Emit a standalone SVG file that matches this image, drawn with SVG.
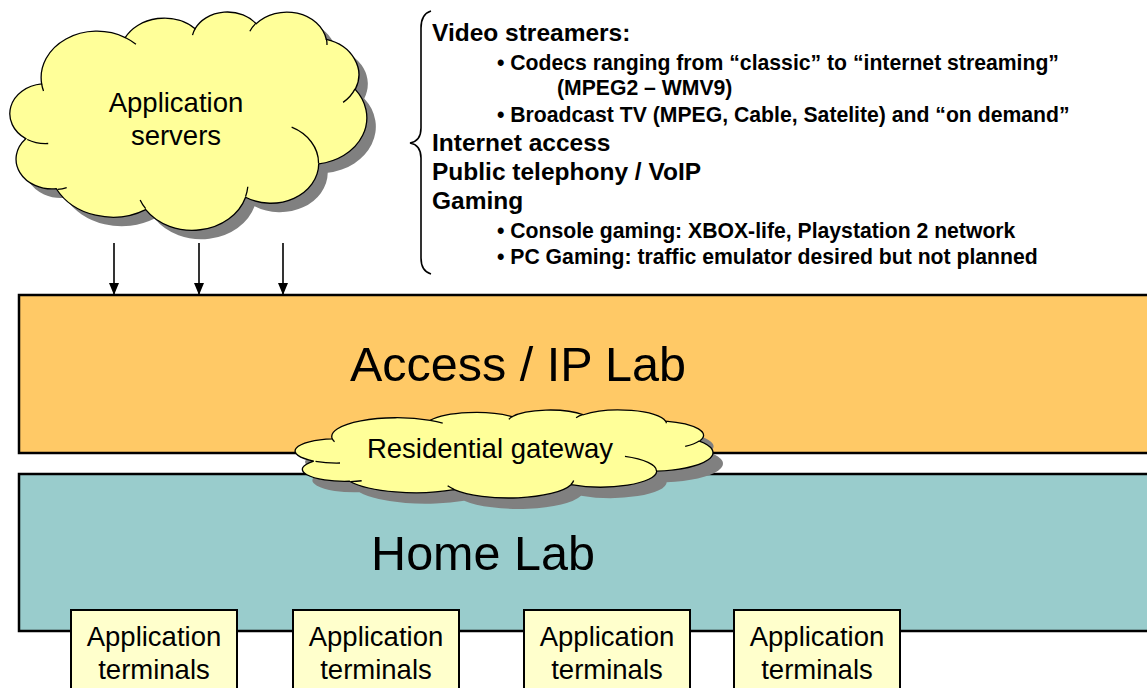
<svg xmlns="http://www.w3.org/2000/svg" xmlns:xlink="http://www.w3.org/1999/xlink" width="1147" height="688" viewBox="0 0 1147 688">
  <style>
    .lab { stroke: #000; stroke-width: 2.5; }
    .sans { font-family: "Liberation Sans", Arial, sans-serif; fill: #000; }
    .cloud { fill: #FFFF99; stroke: #000; stroke-width: 1.3; }
    .cloud-shadow { fill: #808080; stroke: none; }
    .crease { fill: none; stroke: #000; stroke-width: 1.3; }
    .term { fill: #FFFFCC; stroke: #000; stroke-width: 2; }
    .conn { stroke: #000; stroke-width: 1.6; fill: none; }
    .big { font-size: 27.5px; text-anchor: middle; }
    .title { font-size: 48.5px; text-anchor: middle; }
    .list { font-weight: bold; font-size: 24.5px; }
    .sub { font-weight: bold; font-size: 21.2px; }
  </style>
  <defs>
    <!-- cloud outline built from elliptical arcs on a 43200 x 43200 grid -->
    <path id="cloudShape" vector-effect="non-scaling-stroke" d="M3900,14370
      A6753,9190 0 0 1 14005,5202
      A5333,7267 0 0 1 22457,3434
      A4365,5945 0 0 1 29835,2483
      A4857,6595 0 0 1 38319,5579
      A5333,7273 0 0 1 41820,15463
      A6775,9220 0 0 1 37405,30205
      A5785,7867 0 0 1 28557,36815
      A6752,9215 0 0 1 16481,39266
      A7720,10543 0 0 1 5672,35140
      A4360,5918 0 0 1 1980,25219
      A4345,5945 0 0 1 3900,14370 Z"/>
    <!-- short inner arcs where the puffs overlap -->
    <path id="cloudCreases" vector-effect="non-scaling-stroke" d="M4693,26177 A4345,5945 0 0 1 2160,25380
      M6928,34899 A4360,5918 0 0 1 5820,35281
      M16478,39090 A6752,9215 0 0 1 15810,37350
      M28827,34751 A6752,9215 0 0 1 28560,36660
      M34129,22954 A5785,7867 0 0 1 37380,30090
      M41798,15354 A5333,7273 0 0 1 40350,18030
      M38324,5426 A4857,6595 0 0 1 38401,6690
      M29078,3952 A4857,6595 0 0 1 29821,2338
      M22141,4720 A4365,5945 0 0 1 22500,3331
      M14000,5192 A6753,9190 0 0 1 15301,6542
      M4127,15789 A6753,9190 0 0 1 3900,14370"/>
    <marker id="arrow" markerUnits="userSpaceOnUse" markerWidth="12" markerHeight="10" refX="11" refY="5" orient="auto">
      <path d="M0,0 L12,5 L0,10 Z" fill="#000"/>
    </marker>
  </defs>

  <g id="access-ip-lab">
    <rect class="lab" x="19" y="295" width="1140" height="158" fill="#FFC966"/>
    <text class="sans title" x="518" y="381">Access / IP Lab</text>
  </g>

  <g id="home-lab">
    <rect class="lab" x="19" y="474" width="1140" height="157" fill="#99CCCC"/>
    <text class="sans title" x="483" y="570">Home Lab</text>
  </g>

  <g id="application-servers">
    <use xlink:href="#cloudShape" class="cloud-shadow" transform="translate(9,9) matrix(0.00827 0 0 0.00505 9.4 11.3)"/>
    <use xlink:href="#cloudShape" class="cloud" transform="matrix(0.00827 0 0 0.00505 9.4 11.3)"/>
    <use xlink:href="#cloudCreases" class="crease" transform="matrix(0.00827 0 0 0.00505 9.4 11.3)"/>
    <text class="sans big" x="176" y="112">Application</text>
    <text class="sans big" x="176" y="145">servers</text>
  </g>

  <g id="residential-gateway">
    <use xlink:href="#cloudShape" class="cloud-shadow" transform="translate(10,11) matrix(0.00968 0 0 0.002036 294.6 409.7)"/>
    <use xlink:href="#cloudShape" class="cloud" transform="matrix(0.00968 0 0 0.002036 294.6 409.7)"/>
    <use xlink:href="#cloudCreases" class="crease" transform="matrix(0.00968 0 0 0.002036 294.6 409.7)"/>
    <text class="sans big" x="490" y="458">Residential gateway</text>
  </g>

  <g id="connectors">
    <line class="conn" x1="114" y1="243" x2="114" y2="294" marker-end="url(#arrow)"/>
    <line class="conn" x1="199" y1="243" x2="199" y2="294" marker-end="url(#arrow)"/>
    <line class="conn" x1="283" y1="243" x2="283" y2="294" marker-end="url(#arrow)"/>
  </g>

  <g id="service-list">
    <path class="conn" d="M431,11 Q421,14 421,28 L421,128 Q421,141 410,143 Q421,145 421,158 L421,258 Q421,271 431,274"/>
    <text class="sans list" x="432" y="41">Video streamers:</text>
    <text class="sans sub" x="497" y="70">• Codecs ranging from “classic” to “internet streaming”</text>
    <text class="sans sub" x="557" y="95">(MPEG2 – WMV9)</text>
    <text class="sans sub" x="497" y="122">• Broadcast TV (MPEG, Cable, Satelite) and “on demand”</text>
    <text class="sans list" x="432" y="151">Internet access</text>
    <text class="sans list" x="432" y="180">Public telephony / VoIP</text>
    <text class="sans list" x="432" y="209">Gaming</text>
    <text class="sans sub" x="497" y="238">• Console gaming: XBOX-life, Playstation 2 network</text>
    <text class="sans sub" x="497" y="264">• PC Gaming: traffic emulator desired but not planned</text>
  </g>

  <g id="terminal-1">
    <rect class="term" x="71" y="610" width="166" height="90"/>
    <text class="sans big" x="154" y="646">Application</text>
    <text class="sans big" x="154" y="679">terminals</text>
  </g>
  <g id="terminal-2">
    <rect class="term" x="293" y="610" width="166" height="90"/>
    <text class="sans big" x="376" y="646">Application</text>
    <text class="sans big" x="376" y="679">terminals</text>
  </g>
  <g id="terminal-3">
    <rect class="term" x="524" y="610" width="166" height="90"/>
    <text class="sans big" x="607" y="646">Application</text>
    <text class="sans big" x="607" y="679">terminals</text>
  </g>
  <g id="terminal-4">
    <rect class="term" x="734" y="610" width="166" height="90"/>
    <text class="sans big" x="817" y="646">Application</text>
    <text class="sans big" x="817" y="679">terminals</text>
  </g>
</svg>
